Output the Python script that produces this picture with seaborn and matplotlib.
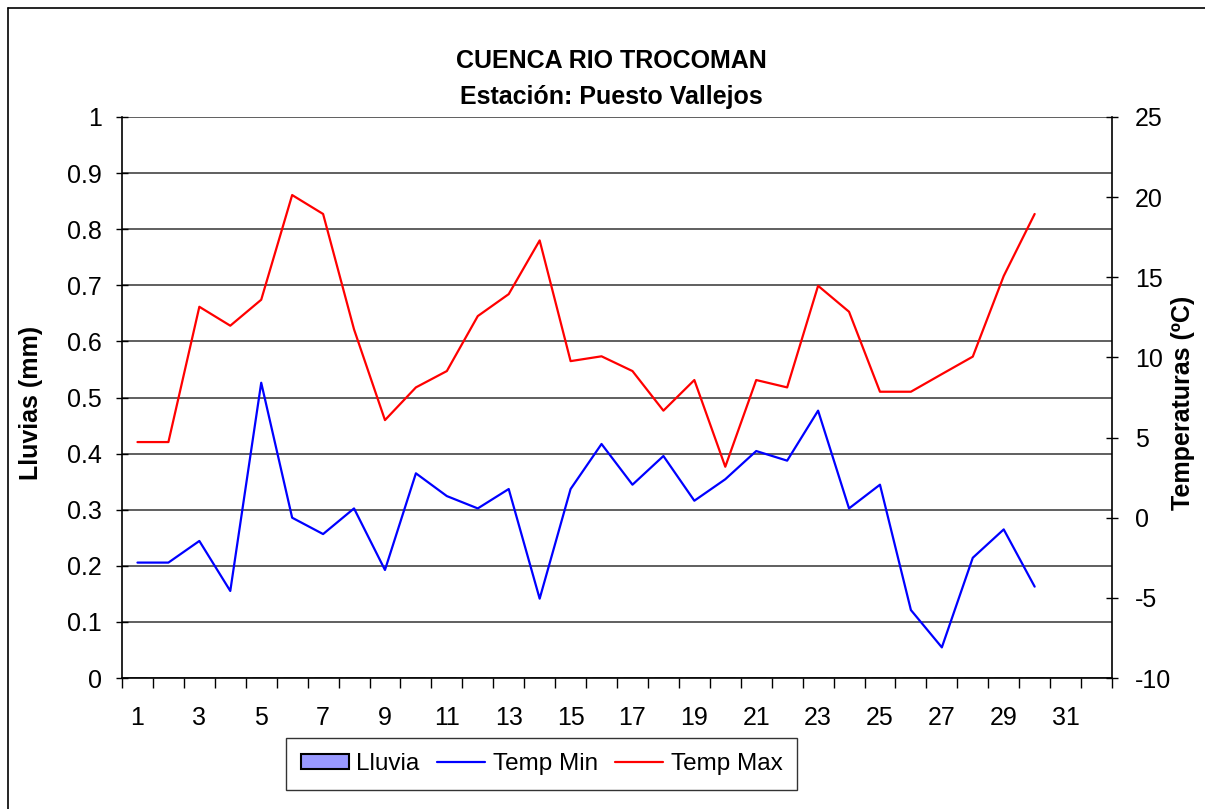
import matplotlib
matplotlib.use('Agg')
import matplotlib.pyplot as plt
from matplotlib.lines import Line2D
from matplotlib.patches import Patch
import numpy as np
import pandas as pd
import seaborn as sns

# days of the month
dias = list(range(1, 31))
# rainfall (mm) - no rain recorded
lluvia = [0] * 30
temp_min = [-2.8, -2.8, -1.45, -4.57, 8.42, 0.0, -1.02, 0.58, -3.26, 2.77,
            1.35, 0.58, 1.79, -5.05, 1.79, 4.6, 2.06, 3.85, 1.06, 2.4,
            4.16, 3.56, 6.68, 0.58, 2.06, -5.76, -8.09, -2.5, -0.73, -4.3]
temp_max = [4.72, 4.72, 13.16, 11.98, 13.6, 20.13, 18.95, 11.75, 6.09, 8.13,
            9.15, 12.58, 13.95, 17.3, 9.77, 10.07, 9.15, 6.68, 8.59, 3.18,
            8.59, 8.13, 14.47, 12.85, 7.86, 7.86, 8.96, 10.05, 15.08, 18.95]
tick_dias = list(range(1, 32, 2))

sns.set_style('white')
plt.rcParams['font.family'] = ['Liberation Sans', 'DejaVu Sans']
plt.rcParams['axes.unicode_minus'] = False
plt.rcParams['text.color'] = 'black'
plt.rcParams['axes.labelcolor'] = 'black'
plt.rcParams['xtick.color'] = 'black'
plt.rcParams['ytick.color'] = 'black'

df = pd.DataFrame({
    'dia': dias * 2,
    'temp': temp_min + temp_max,
    'serie': ['Temp Min'] * 30 + ['Temp Max'] * 30,
})

fig = plt.figure(figsize=(12.05, 8.09), dpi=100)
ax = fig.add_axes([122 / 1205, 1 - 678 / 809, 990 / 1205, 561 / 809])

# rainfall bars on the left axis
ax.bar(dias, lluvia, width=0.6, color='#9999FF', edgecolor='black', linewidth=1, zorder=3)
ax.set_ylim(0, 1)
ax.set_xlim(0.5, 32.5)
ax.set_yticks(np.arange(0, 1.01, 0.1))
ax.set_yticklabels(['0'] + [f'{v:.1f}' for v in np.arange(0.1, 0.95, 0.1)] + ['1'])
ax.yaxis.grid(True, color='#444444', linewidth=1.2)
ax.set_axisbelow(True)
ax.set_xticks(tick_dias)
ax.set_xticklabels([str(d) for d in tick_dias])
ax.set_xticks(np.arange(0.5, 33, 1), minor=True)
ax.tick_params(axis='x', which='major', length=0, labelsize=18, pad=20)
ax.tick_params(axis='x', which='minor', bottom=True, length=7, width=1, direction='out')
ax.tick_params(axis='y', left=True, length=9, width=1, direction='inout', labelsize=18, pad=10)
ax.set_ylabel('Lluvias (mm)', fontsize=18, fontweight='bold')
ax.yaxis.set_label_coords(-0.080, 0.49)
for s in ['top', 'right']:
    ax.spines[s].set_visible(False)
for s in ['left', 'bottom']:
    ax.spines[s].set_color('black')
    ax.spines[s].set_linewidth(1.2)

# temperatures on the right axis
ax2 = ax.twinx()
sns.lineplot(data=df, x='dia', y='temp', hue='serie', ax=ax2,
             palette={'Temp Min': '#0000FF', 'Temp Max': '#FF0000'},
             linewidth=1.6, legend=False)
ax2.set_ylim(-10, 25)
ax2.set_xlim(0.5, 32.5)
ax2.set_yticks(range(-10, 26, 5))
ax2.tick_params(axis='y', right=True, length=9, width=1, direction='inout', labelsize=18, pad=12)
ax2.set_xlabel('')
ax2.set_ylabel('Temperaturas (ºC)', fontsize=18, fontweight='bold')
ax2.yaxis.set_label_coords(1.06, 0.49)
for s in ['top', 'left', 'bottom']:
    ax2.spines[s].set_visible(False)
ax2.spines['right'].set_color('black')
ax2.spines['right'].set_linewidth(1.2)

fig.text(0.507, 1 - 61 / 809, 'CUENCA RIO TROCOMAN', ha='center', va='center',
         fontsize=18, fontweight='bold')
fig.text(0.507, 1 - 97 / 809, 'Estación: Puesto Vallejos', ha='center', va='center',
         fontsize=18, fontweight='bold')

handles = [
    Patch(facecolor='#9999FF', edgecolor='black', linewidth=1.5, label='Lluvia'),
    Line2D([0], [0], color='#0000FF', linewidth=1.6, label='Temp Min'),
    Line2D([0], [0], color='#FF0000', linewidth=1.6, label='Temp Max'),
]
leg = fig.legend(handles=handles, loc='center', bbox_to_anchor=(541.5 / 1205, 1 - 764 / 809),
                 ncol=3, fontsize=17.5, frameon=True, fancybox=False, handlelength=2.0,
                 handleheight=0.6, handletextpad=0.3, columnspacing=0.7, borderpad=0.6)
leg.get_frame().set_edgecolor('black')
leg.get_frame().set_linewidth(1)

# outer chart border (left and top)
fig.add_artist(Line2D([8 / 1205, 8 / 1205], [0, 1 - 8 / 809], color='black', linewidth=1.2))
fig.add_artist(Line2D([8 / 1205, 1], [1 - 8 / 809, 1 - 8 / 809], color='black', linewidth=1.2))

fig.savefig('out.png', dpi=100)
